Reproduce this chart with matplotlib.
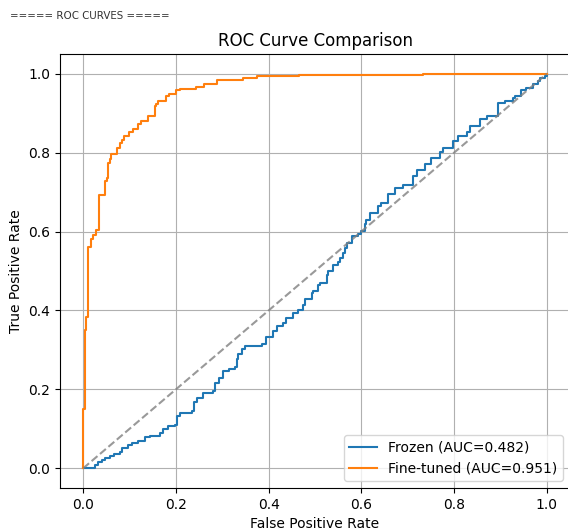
import matplotlib
matplotlib.use("Agg")
import matplotlib.pyplot as plt

# ROC points (fpr, tpr after each jump)
frozen_fpr = [0.0, 0.026, 0.032, 0.04, 0.047, 0.058, 0.066, 0.08, 0.083, 0.097, 0.105,
              0.119, 0.134, 0.145, 0.165, 0.172, 0.184, 0.198, 0.203, 0.209, 0.234,
              0.24, 0.246, 0.259, 0.281, 0.284, 0.292, 0.302, 0.315, 0.328, 0.331,
              0.334, 0.342, 0.35, 0.385, 0.395, 0.41, 0.418, 0.432, 0.438, 0.453,
              0.464, 0.474, 0.478, 0.493, 0.496, 0.507, 0.511, 0.525, 0.529, 0.539,
              0.55, 0.554, 0.561, 0.564, 0.57, 0.579, 0.593, 0.6, 0.607, 0.611,
              0.618, 0.636, 0.643, 0.658, 0.672, 0.69, 0.712, 0.719, 0.737, 0.751,
              0.769, 0.776, 0.798, 0.808, 0.827, 0.834, 0.856, 0.87, 0.895, 0.909,
              0.927, 0.931, 0.945, 0.955, 0.971, 0.981, 0.985, 0.996, 1.0]
frozen_tpr = [0.0, 0.008, 0.015, 0.021, 0.026, 0.03, 0.036, 0.04, 0.052, 0.058, 0.063,
              0.069, 0.078, 0.082, 0.09, 0.099, 0.106, 0.109, 0.132, 0.139, 0.145,
              0.168, 0.179, 0.19, 0.196, 0.217, 0.23, 0.246, 0.252, 0.257, 0.276,
              0.289, 0.303, 0.311, 0.314, 0.333, 0.348, 0.36, 0.369, 0.381, 0.394,
              0.4, 0.415, 0.429, 0.445, 0.449, 0.464, 0.469, 0.491, 0.5, 0.516,
              0.524, 0.533, 0.546, 0.559, 0.571, 0.588, 0.593, 0.601, 0.62, 0.63,
              0.647, 0.664, 0.673, 0.694, 0.711, 0.717, 0.74, 0.757, 0.77, 0.787,
              0.802, 0.812, 0.83, 0.841, 0.852, 0.867, 0.884, 0.892, 0.926, 0.93,
              0.938, 0.943, 0.959, 0.965, 0.974, 0.981, 0.988, 0.994, 1.0]

tuned_fpr = [0.0, 0.0, 0.003, 0.006, 0.011, 0.016, 0.021, 0.028, 0.035, 0.046, 0.051,
             0.054, 0.057, 0.061, 0.073, 0.08, 0.084, 0.088, 0.098, 0.108, 0.119,
             0.125, 0.139, 0.155, 0.158, 0.162, 0.179, 0.185, 0.2, 0.208, 0.244,
             0.261, 0.288, 0.344, 0.351, 0.374, 0.428, 0.465, 0.733]
tuned_tpr = [0.0, 0.15, 0.35, 0.383, 0.56, 0.58, 0.592, 0.603, 0.692, 0.727, 0.736,
             0.774, 0.785, 0.797, 0.813, 0.824, 0.833, 0.841, 0.852, 0.861, 0.873,
             0.879, 0.894, 0.917, 0.923, 0.93, 0.943, 0.949, 0.959, 0.962, 0.967,
             0.974, 0.984, 0.989, 0.99, 0.993, 0.995, 0.997, 1.0]
tuned_fpr.append(1.0)
tuned_tpr.append(1.0)

frozen_auc = 0.482
tuned_auc = 0.951

fig = plt.figure(figsize=(5.68, 5.30), dpi=100)
ax = fig.add_axes([60 / 568, 42 / 530, 510 / 568, 434 / 530])

fig.text(10 / 568, 1 - 16 / 530, "===== ROC CURVES =====", fontsize=7.4,
         va="center", ha="left", color="#333333")

ax.plot(frozen_fpr, frozen_tpr, drawstyle="steps-post", c="tab:blue",
        label=f"Frozen (AUC={frozen_auc:.3f})")
ax.plot(tuned_fpr, tuned_tpr, drawstyle="steps-post", c="tab:orange",
        label=f"Fine-tuned (AUC={tuned_auc:.3f})")
ax.plot([0, 1], [0, 1], "--", c="gray", alpha=0.8)

ax.set_xlabel("False Positive Rate")
ax.set_ylabel("True Positive Rate")
ax.set_title("ROC Curve Comparison")
ax.legend(loc="lower right")
ax.grid(True)

fig.savefig("out.png", dpi=100)
